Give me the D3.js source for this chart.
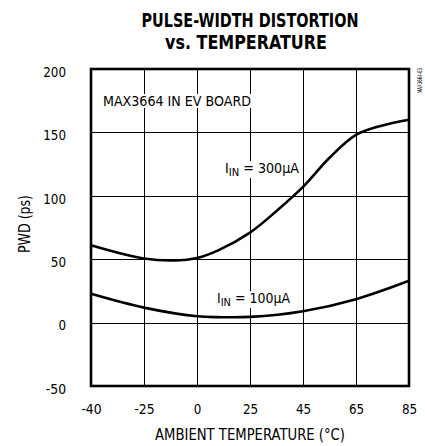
<!DOCTYPE html>
<html>
<head>
<meta charset="utf-8">
<script src="https://cdn.jsdelivr.net/npm/d3@7"></script>
<style>
body{margin:0;background:#fff;}
text{font-family:"DejaVu Sans Condensed","Liberation Sans Narrow",sans-serif;fill:#000;}
</style>
</head>
<body>
<div id="plot"></div>
<script>
//data
var xTicks = [-40,-25,0,25,45,65,85];
var yTicks = [-50,0,50,100,150,200];
var temp300 = [-40,-25,-10,0,10,25,35,45,55,65,75,85];
var pwd300  = [61,50.5,49,51,57,71,88,107,130,148,155.5,160];
var temp100 = [-40,-25,0,10,25,45,65,85];
var pwd100  = [22.7,11.8,5,4.3,4.5,9,18.5,33];

var W = 425, H = 446;
var margin = {t:69,r:16,b:60,l:91};
var width = W-margin.l-margin.r,
	height = H-margin.t-margin.b;

var svg = d3.select('#plot')
	.append('svg')
	.attr('width',W)
	.attr('height',H);

//text helper, squeezes to the measured width when given
function txt(parent,tx,ty,s,size,len){
	var t = parent.append('text').attr('x',tx).attr('y',ty)
		.style('font-size',size+'px').text(s);
	if(len) t.attr('textLength',len).attr('lengthAdjust','spacingAndGlyphs');
	return t;
}
//narrow font width for tick numbers
function tickLen(s){
	return s.replace(/-/g,'').length*7.6 + (s.indexOf('-')>=0 ? 5 : 0);
}

//title
txt(svg,141.5,27,'PULSE-WIDTH DISTORTION',20,217).style('font-weight','bold');
txt(svg,165,49,'vs. TEMPERATURE',20,162).style('font-weight','bold');

var plot = svg.append('g')
	.attr('transform','translate('+margin.l+','+margin.t+')');

//ticks are equally spaced even though values are not
var x = d3.scaleLinear()
	.domain(xTicks)
	.range(xTicks.map(function(d,i){return i*width/(xTicks.length-1);}));
var y = d3.scaleLinear().domain([-50,200]).range([height,0]);

//grid
var grid = plot.append('g').attr('stroke','#000').attr('stroke-width',1)
	.attr('shape-rendering','crispEdges');
xTicks.slice(1,-1).forEach(function(d){
	grid.append('line').attr('x1',Math.round(x(d))+0.5).attr('x2',Math.round(x(d))+0.5).attr('y1',0).attr('y2',height);
});
yTicks.slice(1,-1).forEach(function(d){
	grid.append('line').attr('x1',0).attr('x2',width).attr('y1',Math.round(y(d))+0.5).attr('y2',Math.round(y(d))+0.5);
});

//labels inside, with white boxes over the grid
function label(tx,ty,parts,len){
	var t = plot.append('text').attr('x',tx).attr('y',ty).style('font-size','14px');
	parts.forEach(function(p){
		var s = t.append('tspan').text(p[0]);
		if(p[1]) s.style('font-size','11px').attr('dy',3);
		if(p[2]) s.attr('dy',-3);
	});
	if(len) t.attr('textLength',len).attr('lengthAdjust','spacingAndGlyphs');
	var b = t.node().getBBox();
	plot.append('rect').attr('x',b.x-2).attr('y',b.y+1).attr('width',b.width+4).attr('height',b.height-2)
		.attr('fill','#fff');
	t.raise();
	return t;
}
label(12,37,[['MAX3664 IN EV BOARD']],148);

var line = d3.line()
	.x(function(d){return x(d[0]);})
	.y(function(d){return y(d[1]);})
	.curve(d3.curveCatmullRom);

plot.append('path').datum(d3.zip(temp300,pwd300))
	.attr('d',line).attr('fill','none').attr('stroke','#000').attr('stroke-width',2.6);
plot.append('path').datum(d3.zip(temp100,pwd100))
	.attr('d',line).attr('fill','none').attr('stroke','#000').attr('stroke-width',2.6);

label(134,104,[['I'],['IN',1],[' = 300\u00b5A',0,1]],74);
label(126,234,[['I'],['IN',1],[' = 100\u00b5A',0,1]],73);

//frame
plot.append('rect').attr('width',width).attr('height',height)
	.attr('fill','none').attr('stroke','#000').attr('stroke-width',2.6);

//axis labels, hyphen minus like the original
var xa = d3.axisBottom(x).tickValues(xTicks).tickSize(0).tickPadding(18).tickFormat(String);
plot.append('g').attr('transform','translate(0,'+height+')').call(xa)
	.call(function(g){g.select('.domain').remove();})
	.selectAll('text').attr('fill','#000').style('font-size','14.5px')
	.style('font-family','"DejaVu Sans Condensed",sans-serif')
	.attr('textLength',function(d){return tickLen(String(d));}).attr('lengthAdjust','spacingAndGlyphs');
var ya = d3.axisLeft(y).tickValues(yTicks).tickSize(0).tickPadding(25).tickFormat(String);
plot.append('g').call(ya)
	.call(function(g){g.select('.domain').remove();})
	.selectAll('text').attr('fill','#000').attr('dy','0.5em').style('font-size','14.5px')
	.style('font-family','"DejaVu Sans Condensed",sans-serif')
	.attr('textLength',function(d){return tickLen(String(d));}).attr('lengthAdjust','spacingAndGlyphs');

txt(svg,155,440,'AMBIENT TEMPERATURE (\u00b0C)',15,190);
txt(svg,0,0,'PWD (ps)',15,58).attr('transform','translate(30,253) rotate(-90)');
txt(svg,0,0,'MAX3664-03',6.5,25).attr('transform','translate(421.5,93) rotate(-90)');
</script>
</body>
</html>
